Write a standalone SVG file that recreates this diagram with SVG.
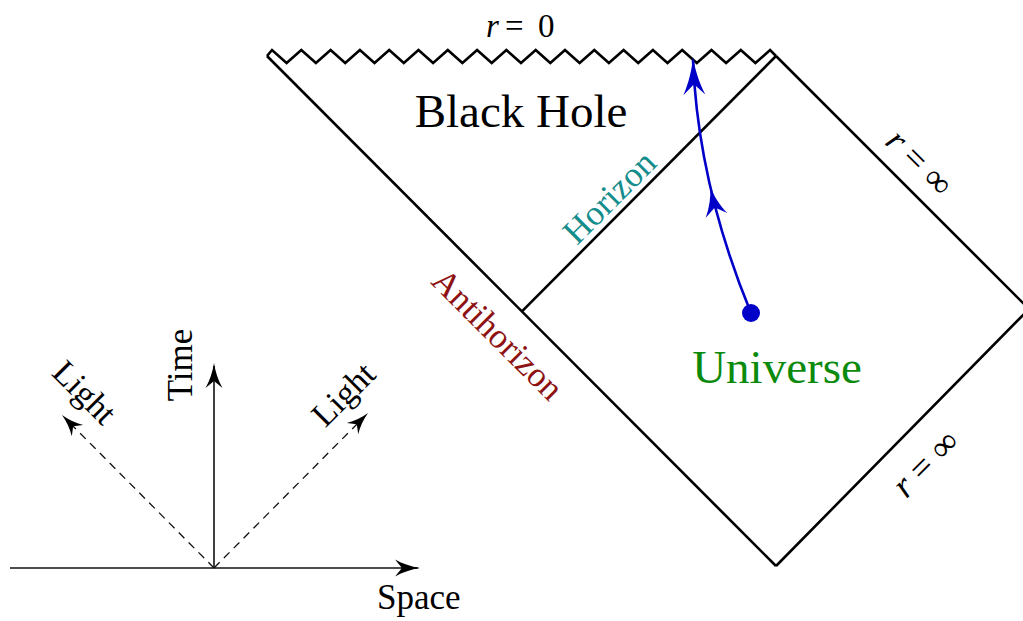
<svg xmlns="http://www.w3.org/2000/svg" xmlns:xlink="http://www.w3.org/1999/xlink" width="1023" height="621" viewBox="0 0 1023 621">
<style>
.bd{fill:none;stroke:#000;stroke-width:2.6;stroke-linejoin:miter;stroke-linecap:butt}
.ax{fill:none;stroke:#111;stroke-width:1.6}
.dash{fill:none;stroke:#111;stroke-width:1.3;stroke-dasharray:8 6}
.wl{fill:none;stroke:#0000c8;stroke-width:2.6}
.t{font-family:"Liberation Serif","Times New Roman",serif;fill:#000}
.hd{fill:#000;stroke:none}
.bh{fill:#0000c8;stroke:none}
</style>
<defs>
<path id="head" d="M0,0 C-0.35,-0.15 -0.7,-0.5 -1,-1 L-0.72,0 L-1,1 C-0.7,0.5 -0.35,0.15 0,0 Z"/>
</defs>
<rect width="1023" height="621" fill="#fff"/>
<g id="connectors">
<g id="penrose-boundary">
<path id="singularity" class="bd" d="M267,56 L272,50 L286.6,63 L301.3,50 L315.9,63 L330.6,50 L345.2,63 L359.9,50 L374.5,63 L389.2,50 L403.8,63 L418.5,50 L433.1,63 L447.8,50 L462.4,63 L477.1,50 L491.7,63 L506.4,50 L521,63 L535.7,50 L550.3,63 L565,50 L579.6,63 L594.3,50 L608.9,63 L623.6,50 L638.2,63 L652.9,50 L667.5,63 L682.2,50 L696.8,63 L711.5,50 L726.1,63 L740.8,50 L755.4,63 L770.1,50 L776,56"/>
<path id="antihorizon-line" class="bd" d="M267,56 L776,566"/>
<path id="scri" class="bd" d="M776,56 L1029,309 L776,566"/>
<path id="horizon-line" class="bd" d="M521.7,311.7 L776,56"/>
</g>
<g id="worldline">
<path class="wl" d="M751,313 C725,250 697,160 693,60"/>
<use href="#head" class="bh" transform="translate(710.3,187) rotate(-102.4) scale(29,11)"/>
<use href="#head" class="bh" transform="translate(693,57) rotate(-92) scale(38,11)"/>
<circle cx="751" cy="313" r="9" fill="#0000c8"/>
</g>
<g id="axes">
<path class="ax" d="M10,568 L418,568"/>
<use href="#head" class="hd" transform="translate(420,568) scale(25,8.5)"/>
<path class="ax" d="M214,568 L214,366"/>
<use href="#head" class="hd" transform="translate(214,363) rotate(-90) scale(25,8.5)"/>
<path class="dash" d="M214,568 L66,419"/>
<use href="#head" class="hd" transform="translate(62,415) rotate(-134.8) scale(22,8)"/>
<path class="dash" d="M214,568 L364,417"/>
<use href="#head" class="hd" transform="translate(368,413) rotate(-45.2) scale(22,8)"/>
</g>
</g>
<g id="label-r0"><text class="t" y="37" font-size="33"><tspan x="486" font-style="italic">r</tspan><tspan x="505">=</tspan><tspan x="538">0</tspan></text></g>
<g id="node-black-hole"><text class="t" x="521" y="127" font-size="47" text-anchor="middle">Black Hole</text></g>
<g id="node-universe"><text class="t" x="777" y="383" font-size="47" text-anchor="middle" style="fill:#0b8a0b">Universe</text></g>
<g id="label-horizon"><text class="t" transform="translate(609,197) rotate(-45)" x="0" y="12" font-size="35" text-anchor="middle" style="fill:#138c8c">Horizon</text></g>
<g id="label-antihorizon"><text class="t" transform="translate(498,334) rotate(45)" x="0" y="12" font-size="35" text-anchor="middle" style="fill:#8e1212">Antihorizon</text></g>
<g id="label-rinf-top"><text class="t" transform="translate(919,163) rotate(45)" x="0" y="11" font-size="36" text-anchor="middle"><tspan font-style="italic">r</tspan> = ∞</text></g>
<g id="label-rinf-bottom"><text class="t" transform="translate(926,464) rotate(-45)" x="0" y="11" font-size="36" text-anchor="middle"><tspan font-style="italic">r</tspan> = ∞</text></g>
<g id="label-time"><text class="t" transform="translate(181,365) rotate(-90)" x="0" y="11" font-size="35" text-anchor="middle">Time</text></g>
<g id="label-light-left"><text class="t" transform="translate(83,394) rotate(45)" x="0" y="9" font-size="34" text-anchor="middle">Light</text></g>
<g id="label-light-right"><text class="t" transform="translate(345,396) rotate(-45)" x="0" y="9" font-size="34" text-anchor="middle">Light</text></g>
<g id="label-space"><text class="t" x="377" y="609" font-size="35">Space</text></g>
</svg>
